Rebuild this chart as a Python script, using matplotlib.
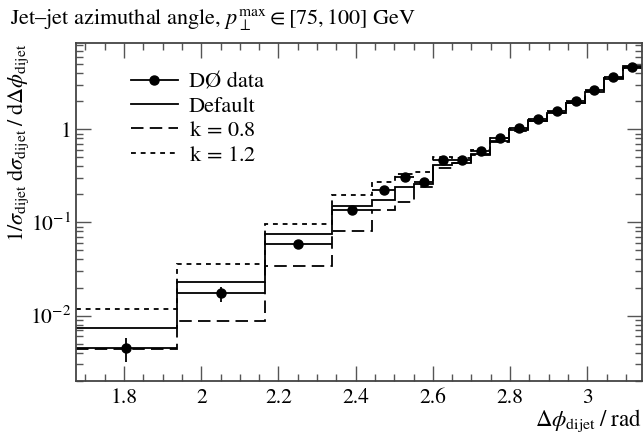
import matplotlib
matplotlib.use("Agg")
import matplotlib.pyplot as plt
import numpy as np
from matplotlib.lines import Line2D
from matplotlib.ticker import MultipleLocator, LogLocator, FuncFormatter, NullFormatter

plt.rcParams["font.family"] = "STIXGeneral"
plt.rcParams["mathtext.fontset"] = "stix"
plt.rcParams["lines.scale_dashes"] = False

# bin edges in Delta phi (rad)
edges = [1.6755, 1.937, 2.164, 2.339, 2.443, 2.503, 2.552, 2.601, 2.650, 2.700,
         2.749, 2.798, 2.847, 2.896, 2.945, 2.994, 3.043, 3.092, 3.1416]

data_y = [0.0045, 0.0175, 0.059, 0.136, 0.222, 0.31, 0.275, 0.47, 0.465, 0.59,
          0.81, 1.04, 1.30, 1.58, 2.01, 2.65, 3.68, 4.71]
data_err_lo = [0.0013, 0.0035, 0.004, 0.008, 0.012, 0.015, 0.02, 0.02, 0.02, 0.025,
               0.03, 0.04, 0.05, 0.06, 0.07, 0.09, 0.12, 0.15]
data_err_hi = [0.0012, 0.0028, 0.004, 0.008, 0.012, 0.015, 0.02, 0.02, 0.02, 0.025,
               0.03, 0.04, 0.05, 0.06, 0.07, 0.09, 0.12, 0.15]

default_y = [0.0074, 0.023, 0.076, 0.150, 0.174, 0.241, 0.256, 0.41, 0.44, 0.54,
             0.75, 0.98, 1.22, 1.50, 1.90, 2.55, 3.50, 4.60]
k08_y = [0.00434, 0.0087, 0.0339, 0.0806, 0.136, 0.167, 0.24, 0.38, 0.43, 0.53,
         0.74, 0.97, 1.22, 1.50, 1.92, 2.60, 3.60, 4.80]
k12_y = [0.0119, 0.0362, 0.0951, 0.197, 0.273, 0.33, 0.35, 0.50, 0.49, 0.60,
         0.80, 1.00, 1.27, 1.55, 1.95, 2.60, 3.55, 4.55]

fig = plt.figure(figsize=(6.43, 4.34), dpi=100)
ax = fig.add_axes([0.1182, 0.1221, 0.8802, 0.7781])

lw = 1.3
dash_long = (0, (9, 4.5))
dash_short = (0, (3.5, 3.5))
ax.stairs(default_y, edges, baseline=None, color="k", lw=lw)
ax.stairs(k08_y, edges, baseline=None, color="k", lw=lw, linestyle=dash_long)
ax.stairs(k12_y, edges, baseline=None, color="k", lw=lw, linestyle=dash_short)

e = np.array(edges)
centers = 0.5 * (e[1:] + e[:-1])
halfw = 0.5 * (e[1:] - e[:-1])
ax.errorbar(centers, data_y, xerr=halfw, yerr=[data_err_lo, data_err_hi],
            fmt="o", color="k", ms=6.5, elinewidth=lw, capsize=0)

ax.set_yscale("log")
ax.set_xlim(edges[0], edges[-1])
ax.set_ylim(0.00198, 8.4)

ax.xaxis.set_major_locator(MultipleLocator(0.2))
ax.xaxis.set_minor_locator(MultipleLocator(0.05))
ax.yaxis.set_major_locator(LogLocator(base=10))
ax.yaxis.set_minor_locator(LogLocator(base=10, subs=np.arange(2, 10)))
ax.yaxis.set_minor_formatter(NullFormatter())


def yfmt(v, pos):
    ex = int(round(np.log10(v)))
    if ex == 0:
        return "1"
    return r"$10^{%d}$" % ex


ax.yaxis.set_major_formatter(FuncFormatter(yfmt))
ax.xaxis.set_major_formatter(FuncFormatter(lambda v, p: ("%g" % round(v, 2))))

ax.tick_params(which="both", direction="in", top=True, right=True, labelsize=15.5,
               color="#555555")
ax.tick_params(which="major", length=11, width=1)
ax.tick_params(which="minor", length=5, width=1)
ax.tick_params(axis="x", pad=5)
for s in ax.spines.values():
    s.set_linewidth(1.3)
    s.set_color("#444444")

ax.set_xlabel(r"$\Delta\phi_\mathrm{dijet}\;/\;\mathrm{rad}$", loc="right", fontsize=16.5, labelpad=0)
ax.set_ylabel(r"$1/\sigma_\mathrm{dijet}\;\mathrm{d}\sigma_\mathrm{dijet}\;/\;\mathrm{d}\Delta\phi_\mathrm{dijet}$",
              loc="top", fontsize=16)
ax.yaxis.set_label_coords(-0.08, 1.0)

fig.text(10 / 643, 1 - 19 / 434,
         r"Jet–jet azimuthal angle, $p_\perp^\mathrm{max} \in [75, 100]$ GeV",
         fontsize=16, ha="left", va="center")

handles = [
    Line2D([], [], color="k", marker="o", ms=6.5, lw=lw),
    Line2D([], [], color="k", lw=lw),
    Line2D([], [], color="k", lw=lw, linestyle=dash_long),
    Line2D([], [], color="k", lw=lw, linestyle=dash_short),
]
labels = ["DØ data", "Default", r"k$\,=\,$0.8", r"k$\,=\,$1.2"]
ax.legend(handles, labels, loc="upper left", bbox_to_anchor=(0.097, 0.915),
          frameon=False, fontsize=16, handlelength=2.1, handletextpad=0.5,
          labelspacing=0.17, borderpad=0, borderaxespad=0)

fig.savefig("out.png", dpi=100)
